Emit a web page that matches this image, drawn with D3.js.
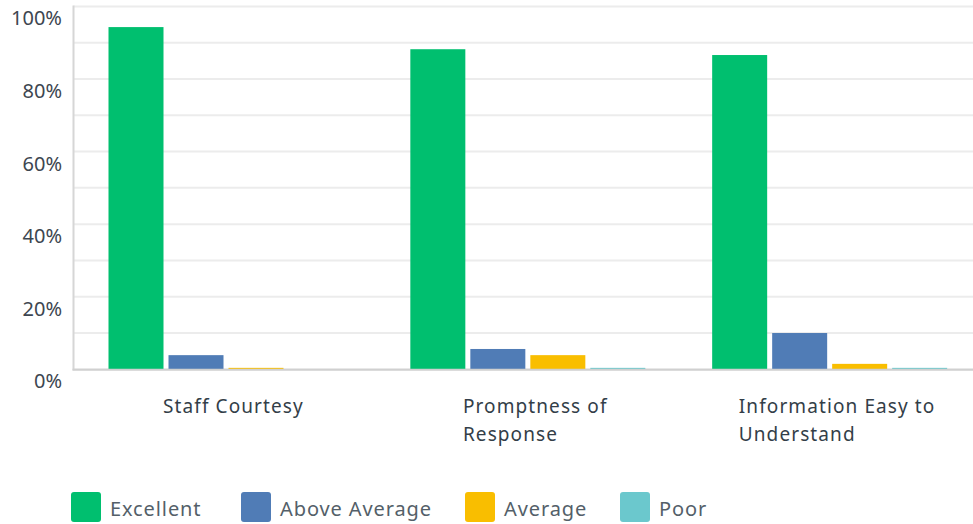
<!DOCTYPE html>
<html>
<head>
<meta charset="utf-8">
<script src="https://cdn.jsdelivr.net/npm/d3@7"></script>
<style>
  html, body { margin: 0; padding: 0; background: #fff; }
  svg { display: block; }
</style>
</head>
<body>
<svg id="chart" width="973" height="524"></svg>
<script>
// Ratings per question, in percent of respondents
const categories = [["Staff Courtesy"], ["Promptness of", "Response"], ["Information Easy to", "Understand"]];
const seriesNames = ["Excellent", "Above Average", "Average", "Poor"];
const excellent    = [94.3, 88.2, 86.6];
const aboveAverage = [3.9, 5.6, 10.0];
const average      = [0.4, 3.9, 1.5];
const poor         = [0.0, 0.4, 0.4];
const yTicks = [0, 20, 40, 60, 80, 100];
const gridTicks = [0, 10, 20, 30, 40, 50, 60, 70, 80, 90, 100];
const colors = ["#00bf6f", "#507cb6", "#f9be00", "#6bc8cd"];

const seriesValues = [excellent, aboveAverage, average, poor];
const catKeys = categories.map(c => c.join(" "));

const svg = d3.select("#chart");
const plotLeft = 73.5, plotRight = 979, plotTop = 6.4, plotBottom = 369.3;

const x0 = d3.scaleBand().domain(catKeys).range([plotLeft, plotRight]);
const x1 = d3.scaleBand().domain(seriesNames).range([35, 270]).paddingInner(5 / 60);
const y = d3.scaleLinear().domain([0, 100]).range([plotBottom, plotTop]);

// gridlines
svg.append("g")
  .selectAll("line")
  .data(gridTicks)
  .join("line")
  .attr("x1", plotLeft).attr("x2", 973)
  .attr("y1", d => y(d)).attr("y2", d => y(d))
  .attr("stroke", "#ececec").attr("stroke-width", 2);

// y tick labels
svg.append("g")
  .selectAll("text")
  .data(yTicks)
  .join("text")
  .attr("x", 62)
  .attr("y", d => y(d) + 12)
  .attr("dy", "0.35em")
  .attr("text-anchor", "end")
  .attr("font-family", "'Noto Sans', sans-serif")
  .attr("font-size", 20)
  .attr("fill", "#3d4650")
  .text(d => d + "%");

// bars
const groups = svg.append("g")
  .selectAll("g")
  .data(catKeys)
  .join("g")
  .attr("transform", d => `translate(${x0(d)},0)`);

groups.selectAll("rect")
  .data((d, i) => seriesNames.map((s, j) => ({ s, v: seriesValues[j][i], c: colors[j] })))
  .join("rect")
  .attr("x", d => x1(d.s))
  .attr("width", x1.bandwidth())
  .attr("y", d => y(d.v))
  .attr("height", d => y(0) - y(d.v))
  .attr("fill", d => d.c);

// axis lines
svg.append("line")
  .attr("x1", plotLeft).attr("x2", plotLeft)
  .attr("y1", plotTop - 1).attr("y2", plotBottom + 1)
  .attr("stroke", "#d6d6d6").attr("stroke-width", 2);
svg.append("line")
  .attr("x1", plotLeft - 1).attr("x2", 973)
  .attr("y1", plotBottom + 0.5).attr("y2", plotBottom + 0.5)
  .attr("stroke", "#d0d0d0").attr("stroke-width", 2);

// category labels: left-aligned block centred under each group
const labelFont = "'Noto Sans', sans-serif";
categories.forEach((lines, i) => {
  const key = catKeys[i];
  const t = svg.append("text")
    .attr("font-family", labelFont)
    .attr("font-size", 19)
    .attr("letter-spacing", 1.1)
    .attr("fill", "#333e48");
  lines.forEach((ln, k) => {
    t.append("tspan").attr("x", 0).attr("y", 413 + k * 28).text(ln);
  });
  let w = 0;
  t.selectAll("tspan").each(function () { w = Math.max(w, this.getComputedTextLength()); });
  const cx = x0(key) + x0.bandwidth() / 2 + 9;
  t.attr("transform", `translate(${cx - w / 2},0)`);
});

// legend
const legendX = [71, 241, 465, 620];
const legend = svg.append("g")
  .selectAll("g")
  .data(seriesNames)
  .join("g")
  .attr("transform", (d, i) => `translate(${legendX[i]},492)`);
legend.append("rect")
  .attr("width", 30).attr("height", 30).attr("rx", 3)
  .attr("fill", (d, i) => colors[i]);
legend.append("text")
  .attr("x", 39).attr("y", 17)
  .attr("dy", "0.35em")
  .attr("font-family", labelFont)
  .attr("font-size", 20)
  .attr("letter-spacing", 0.9)
  .attr("fill", "#545f69")
  .text(d => d);
</script>
</body>
</html>
